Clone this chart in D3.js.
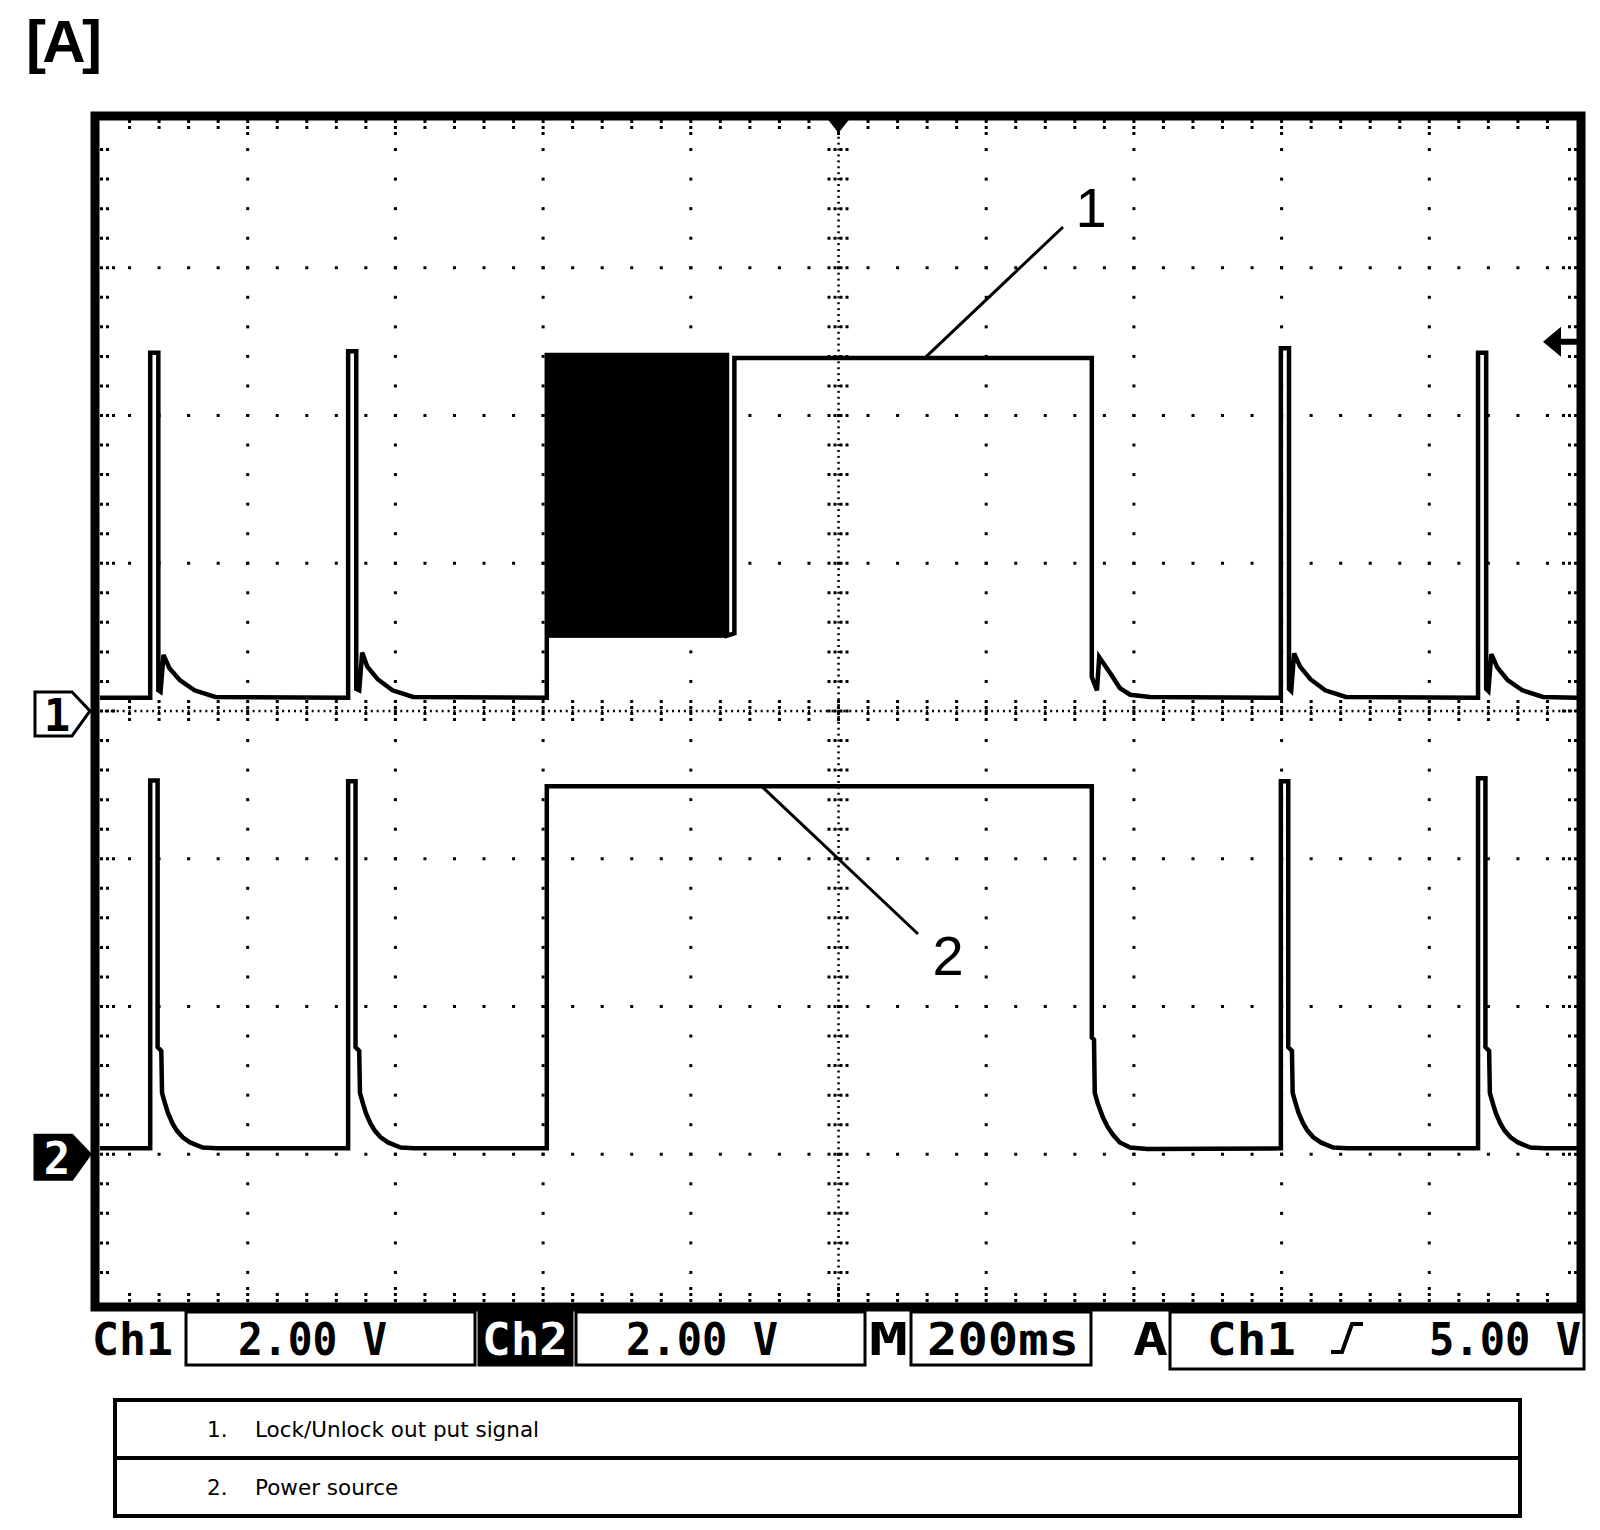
<!DOCTYPE html>
<html>
<head>
<meta charset="utf-8">
<script src="https://cdn.jsdelivr.net/npm/d3@7"></script>
<style>
  body { margin: 0; background: #fff; }
  svg { display: block; }
</style>
</head>
<body>
<svg id="scope" width="1600" height="1530"></svg>
<script>
// screen settings: 200 ms/div, 2.00 V/div on both channels
var timeDomain = [0, 2000];      // ms, 10 divisions
var ch1Volts = [-8, 8];          // ch1 ground on the centre line
var ch2Volts = [-2, 14];         // ch2 ground 3 div below centre
var triggerTime = 1000;
var triggerLevel = 5.0;

// [time ms, volts]
var ch1Trace = [
  [0,0.18],
  [68,0.18],[68,4.85],[79,4.85],[79,0.28],[82,0.26],[86,0.76],[94,0.58],[108,0.42],[128,0.28],[156,0.19],
  [336,0.18],[336,4.87],[347,4.87],[347,0.30],[351,0.28],[355,0.79],[362,0.60],[376,0.43],[396,0.28],[424,0.19],
  [605,0.18],[605,4.82],[849,4.82],[849,1.02],[859,1.05],[859,4.78],
  [1343,4.78],[1343,0.46],[1350,0.28],[1353,0.73],[1368,0.51],[1381,0.31],[1395,0.22],[1422,0.19],
  [1599,0.18],[1599,4.91],[1610,4.91],[1610,0.30],[1613,0.27],[1617,0.78],[1625,0.60],[1639,0.43],[1659,0.28],[1687,0.19],
  [1866,0.18],[1866,4.85],[1877,4.85],[1877,0.30],[1880,0.27],[1884,0.77],[1892,0.59],[1906,0.42],[1926,0.28],[1954,0.19],
  [2000,0.18]
];
// fast switching burst on ch1: [start ms, end ms, low V, high V]
var ch1Burst = [[605, 849, 0.99, 4.82]];

var ch2Trace = [
  [0,0.08],
  [68,0.08],[68,5.06],[78,5.06],[78,1.45],[83,1.40],[84,0.83],[88,0.69],[92,0.56],[98,0.42],[104,0.32],[112,0.23],[122,0.16],[139,0.09],[158,0.08],
  [336,0.08],[336,5.05],[346,5.05],[346,1.45],[351,1.40],[352,0.83],[356,0.69],[360,0.56],[366,0.42],[372,0.32],[380,0.23],[390,0.16],[407,0.09],[426,0.08],
  [605,0.08],[605,4.98],[1343,4.98],[1343,1.58],[1346,1.55],[1347,0.83],[1351,0.69],[1358,0.50],[1365,0.36],[1372,0.26],[1381,0.16],[1395,0.09],[1418,0.07],
  [1599,0.08],[1599,5.05],[1609,5.05],[1609,1.45],[1614,1.40],[1615,0.83],[1619,0.69],[1623,0.56],[1629,0.42],[1635,0.32],[1643,0.23],[1653,0.16],[1670,0.09],[1689,0.08],
  [1866,0.08],[1866,5.09],[1876,5.09],[1876,1.45],[1881,1.40],[1882,0.83],[1886,0.69],[1890,0.56],[1896,0.42],[1902,0.32],[1910,0.23],[1920,0.16],[1937,0.09],[1956,0.08],
  [2000,0.08]
];

// where the numbered call-outs touch the traces: [time ms, volts]
var callout1 = [1117, 4.78];
var callout2 = [896, 4.98];

var statusText = ["Ch1", "2.00 V", "Ch2", "2.00 V", "M", "200ms", "A", "Ch1", "5.00 V"];
var legendNumbers = ["1.", "2."];
var legendItems = ["Lock/Unlock out put signal", "Power source"];

var svg = d3.select("#scope");

var xLeft = 100, xRight = 1577, yTop = 120, yBottom = 1302;
var x = d3.scaleLinear().domain(timeDomain).range([xLeft, xRight]);
var y1 = d3.scaleLinear().domain(ch1Volts).range([yBottom, yTop]);
var y2 = d3.scaleLinear().domain(ch2Volts).range([yBottom, yTop]);
// divisions
var gx = d3.scaleLinear().domain([0, 10]).range([xLeft, xRight]);
var gy = d3.scaleLinear().domain([0, 8]).range([yTop, yBottom]);

svg.append("text")
  .attr("x", 26).attr("y", 62)
  .attr("textLength", 76)
  .style("font-family", "'Liberation Sans', Arial, sans-serif")
  .style("font-weight", "bold").style("font-size", "60px")
  .text("[A]");

/* graticule */
var grid = svg.append("g");

// dotted major lines
d3.range(1, 10).forEach(function(i) {
  if (i == 5) return;
  d3.range(1, 40).forEach(function(j) {
    grid.append("rect").attr("x", gx(i) - 1.5).attr("y", gy(j / 5) - 1.5)
      .attr("width", 3).attr("height", 3);
  });
});
d3.range(1, 8).forEach(function(j) {
  if (j == 4) return;
  d3.range(1, 50).forEach(function(i) {
    grid.append("rect").attr("x", gx(i / 5) - 1.5).attr("y", gy(j) - 1.5)
      .attr("width", 3).attr("height", 3);
  });
});

// centre cross: fine dots plus ticks
d3.range(1, 200).forEach(function(k) {
  grid.append("rect").attr("x", gx(5) - 1.2).attr("y", gy(k / 25) - 1)
    .attr("width", 2.5).attr("height", 2);
});
d3.range(1, 250).forEach(function(k) {
  grid.append("rect").attr("x", gx(k / 25) - 1).attr("y", gy(4) - 1.2)
    .attr("width", 2).attr("height", 2.5);
});
d3.range(1, 40).forEach(function(j) {
  grid.append("line")
    .attr("x1", gx(5) - 11).attr("x2", gx(5) + 11)
    .attr("y1", gy(j / 5)).attr("y2", gy(j / 5))
    .style("stroke", "#000").style("stroke-width", 3).style("stroke-dasharray", "3,3");
});
d3.range(1, 50).forEach(function(i) {
  grid.append("line")
    .attr("x1", gx(i / 5)).attr("x2", gx(i / 5))
    .attr("y1", gy(4) - 11).attr("y2", gy(4) + 11)
    .style("stroke", "#000").style("stroke-width", 3).style("stroke-dasharray", "3,3");
});

// ticks on the frame
function tick(xa, ya, xb, yb) {
  grid.append("line").attr("x1", xa).attr("y1", ya).attr("x2", xb).attr("y2", yb)
    .style("stroke", "#000").style("stroke-width", 3).style("stroke-dasharray", "3,3");
}
d3.range(1, 50).forEach(function(i) {
  var len = (i % 5 == 0) ? 17 : 11;
  tick(gx(i / 5), yTop, gx(i / 5), yTop + len);
  tick(gx(i / 5), yBottom, gx(i / 5), yBottom - len);
});
d3.range(1, 40).forEach(function(j) {
  var len = (j % 5 == 0) ? 17 : 9;
  tick(xLeft, gy(j / 5), xLeft + len, gy(j / 5));
  tick(xRight, gy(j / 5), xRight - len, gy(j / 5));
});

/* traces */
var line1 = d3.line().x(function(d) { return x(d[0]); }).y(function(d) { return y1(d[1]); });
var line2 = d3.line().x(function(d) { return x(d[0]); }).y(function(d) { return y2(d[1]); });

svg.selectAll("rect.burst")
  .data(ch1Burst)
  .enter().append("rect")
  .attr("class", "burst")
  .attr("x", function(d) { return x(d[0]); })
  .attr("width", function(d) { return x(d[1]) - x(d[0]); })
  .attr("y", function(d) { return y1(d[3]); })
  .attr("height", function(d) { return y1(d[2]) - y1(d[3]); })
  .style("fill", "#000");

svg.append("path").datum(ch1Trace)
  .attr("d", line1)
  .style("fill", "none").style("stroke", "#000").style("stroke-width", 4.5);
svg.append("path").datum(ch2Trace)
  .attr("d", line2)
  .style("fill", "none").style("stroke", "#000").style("stroke-width", 4.5);

/* frame */
svg.append("rect")
  .attr("x", 95).attr("y", 116).attr("width", 1486).attr("height", 1191)
  .style("fill", "none").style("stroke", "#000").style("stroke-width", 9);

// trigger position marker
var xt = x(triggerTime);
svg.append("path")
  .attr("d", "M" + (xt - 11) + ",119L" + (xt + 11) + ",119L" + xt + ",133Z")
  .style("fill", "#000");

// trigger level arrow
var yt = y1(triggerLevel);
svg.append("path")
  .attr("d", "M1543," + yt + "L1561," + (yt - 15) + "L1561," + (yt - 3) + "L1577," + (yt - 3) +
             "L1577," + (yt + 3) + "L1561," + (yt + 3) + "L1561," + (yt + 15) + "Z")
  .style("fill", "#000");

// ground markers
function groundMarker(yg, label, inverted) {
  var g = svg.append("g");
  g.append("path")
    .attr("d", "M35," + (yg - 19) + "L72," + (yg - 19) + "L90," + yg + "L72," + (yg + 25) + "L35," + (yg + 25) + "Z")
    .style("fill", inverted ? "#000" : "#fff")
    .style("stroke", "#000").style("stroke-width", 3);
  g.append("text")
    .attr("x", 57).attr("y", yg + 20)
    .attr("text-anchor", "middle")
    .style("font-family", "'DejaVu Sans Mono', monospace")
    .style("font-weight", "bold").style("font-size", "44px")
    .style("fill", inverted ? "#fff" : "#000")
    .text(label);
}
groundMarker(y1(0), "1", false);
groundMarker(y2(0), "2", true);

/* call-outs */
svg.append("line")
  .attr("x1", 1063).attr("y1", 227)
  .attr("x2", x(callout1[0])).attr("y2", y1(callout1[1]))
  .style("stroke", "#000").style("stroke-width", 3);
svg.append("text")
  .attr("x", 1091).attr("y", 227).attr("text-anchor", "middle")
  .style("font-family", "'Liberation Sans', Arial, sans-serif").style("font-size", "56px")
  .text("1");
svg.append("line")
  .attr("x1", 918).attr("y1", 934)
  .attr("x2", x(callout2[0])).attr("y2", y2(callout2[1]))
  .style("stroke", "#000").style("stroke-width", 3);
svg.append("text")
  .attr("x", 948).attr("y", 975).attr("text-anchor", "middle")
  .style("font-family", "'Liberation Sans', Arial, sans-serif").style("font-size", "56px")
  .text("2");

/* status line */
var bar = svg.append("g");
function box(xa, xb, ya, yb, fill) {
  bar.append("rect").attr("x", xa).attr("y", ya).attr("width", xb - xa).attr("height", yb - ya)
    .style("fill", fill || "none").style("stroke", "#000").style("stroke-width", 3);
}
box(186, 475, 1312, 1365);
box(479, 572, 1312, 1365, "#000");
box(576, 865, 1312, 1365);
box(911, 1091, 1312, 1365);
box(1170, 1584, 1312, 1369);

var statusX = [92, 238, 482, 626, 869, 927, 1133, 1207, 1429];
var statusW = [81, 149, 86, 152, 39, 152, 35, 89, 152];
statusText.forEach(function(t, i) {
  bar.append("text")
    .attr("x", statusX[i]).attr("y", 1355)
    .attr("textLength", statusW[i]).attr("lengthAdjust", "spacingAndGlyphs")
    .style("font-family", "'DejaVu Sans Mono', monospace")
    .style("font-weight", "bold").style("font-size", "45px")
    .style("fill", i == 2 ? "#fff" : "#000")
    .text(t);
});
// rising edge symbol
bar.append("path")
  .attr("d", "M1331,1352H1342L1352,1324H1363")
  .style("fill", "none").style("stroke", "#000").style("stroke-width", 4);

/* legend table */
var leg = svg.append("g");
leg.append("rect").attr("x", 115).attr("y", 1400).attr("width", 1405).attr("height", 116)
  .style("fill", "none").style("stroke", "#000").style("stroke-width", 4);
leg.append("line").attr("x1", 115).attr("x2", 1520).attr("y1", 1458).attr("y2", 1458)
  .style("stroke", "#000").style("stroke-width", 4);
legendItems.forEach(function(t, i) {
  var yb = 1437 + i * 58;
  leg.append("text").attr("x", 207).attr("y", yb)
    .style("font-family", "'DejaVu Sans', Verdana, sans-serif").style("font-size", "21.5px")
    .text(legendNumbers[i]);
  leg.append("text").attr("x", 255).attr("y", yb)
    .style("font-family", "'DejaVu Sans', Verdana, sans-serif").style("font-size", "21.5px")
    .text(t);
});
</script>
</body>
</html>
